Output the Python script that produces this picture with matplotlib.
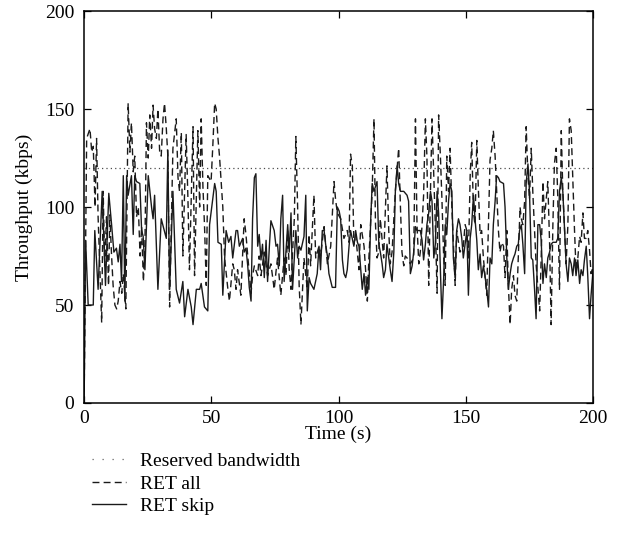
import matplotlib
matplotlib.use('Agg')
import matplotlib.pyplot as plt
from matplotlib.lines import Line2D

plt.rcParams['font.family'] = ['Liberation Serif', 'DejaVu Serif']
plt.rcParams['font.size'] = 14

# 数据
reserved_bw = 120

t_skip = [0, 0.6, 1.6, 3.6, 4.2, 5.5, 7.1, 8.4, 9.7, 10.8, 11.7, 12.7, 13.4, 14.1, 14.7, 15.4, 16.0, 16.7, 17.3, 18.6,
          19.3, 19.9, 20.6, 21.9, 22.6, 23.2, 23.9, 25.2, 26.5, 27.1,
          27.7, 29.0, 30.3, 32.3, 32.9, 33.6, 34.9, 36.2, 37.5, 38.8, 39.5, 40.8, 42.1, 42.8, 44.1, 45.4, 46.0, 47.3,
          48.6, 49.3, 51.3, 51.9, 52.6, 53.9, 54.5, 55.8,
          56.8, 57.7, 58.4, 59.7, 60.3, 61.0, 62.3, 62.9, 63.6, 64.3, 64.9, 65.6, 66.2, 66.9, 67.5, 68.2, 68.8, 69.5,
          70.1, 70.8, 71.5, 72.1, 72.8, 73.4, 74.7, 75.4, 76.0, 76.7, 77.3, 78.0, 78.6, 79.3, 80.0, 80.6, 81.3, 81.9,
          82.6, 83.2, 83.9, 84.5, 85.2,
          86.4, 87.1, 87.7, 88.4, 89.0, 90.3, 91.6, 92.3, 92.9, 93.6, 94.3, 94.9, 95.6, 96.2, 97.5, 98.8, 99.5, 100.2,
          100.8, 101.5, 102.1, 102.8, 103.4, 104.1, 104.7, 106.0, 106.7, 107.4, 108.0, 109.3, 110.0, 110.6, 111.3,
          111.9, 112.6, 113.2, 113.9,
          115.1, 115.8, 116.4, 117.1, 117.7, 118.4, 119.0, 119.7, 120.3, 121.0, 121.7, 122.3, 123.0, 123.6, 124.3,
          125.6, 126.9, 127.5, 128.2, 128.9, 129.5, 130.2, 130.8, 132.1, 132.8, 133.4, 134.1, 134.7, 135.4, 136.1,
          136.7, 137.4, 138.0, 138.7, 139.3, 140.0, 140.6, 141.3, 141.9,
          142.5, 143.2, 143.8, 144.5, 145.1, 145.8, 146.4, 147.1, 147.7, 148.4, 149.0, 149.7, 150.4, 151.0, 151.7,
          152.3, 153.0, 153.6, 154.3, 154.9, 155.6, 156.2, 156.9, 157.6, 158.2, 158.9, 159.5, 160.2, 160.8, 161.5,
          162.1, 162.8, 163.4, 164.8, 165.4, 166.1, 166.7, 167.4, 168.0, 168.7, 169.3, 170.0, 170.6,
          171.1, 171.8, 172.4, 173.1, 173.7, 174.4, 175.0, 175.7, 176.3, 177.0, 177.6, 178.3, 179.0, 179.6, 180.3,
          180.9, 181.6, 182.2, 182.9, 183.5, 184.2, 185.5, 186.1, 186.8, 187.5, 188.1, 188.8, 189.4, 190.1, 190.7,
          191.4, 192.0, 192.7, 193.3, 194.0, 194.7, 195.3, 196.0, 196.6, 197.3, 197.9, 198.6, 199.2, 200.0]
v_skip = [0, 83, 50, 50, 88, 58, 108, 60, 107, 91, 77, 79, 72, 81, 62, 116, 52, 116, 106, 116,
          86, 116, 113, 112, 88, 85, 68, 116, 100, 94,
          106, 58, 94, 84, 129, 58, 108, 58, 51, 62, 44, 58, 49, 40, 58, 58, 61, 49,
          47, 91, 112, 108, 82, 81, 55, 88,
          82, 85, 74, 88, 88, 80, 84, 77, 79, 70, 59, 52, 94, 115, 117, 80, 86, 73,
          81, 64, 83, 62, 80, 93, 88, 80, 81, 70, 94, 106, 62, 77, 91, 77, 97, 58,
          74, 88, 74, 80, 78,
          85, 106, 47, 64, 61, 58, 66, 80, 68, 88, 88, 81, 75, 66, 59, 59, 100, 98,
          94, 73, 66, 64, 68, 80, 88, 80, 88, 82, 80, 58, 66, 55, 64,
          58, 93, 112, 108,
          113, 81, 77, 71, 64, 68, 81, 74, 68, 62, 77, 108, 121, 112, 108,
          108, 106, 103, 66, 70, 77, 90, 88, 88, 83, 73, 81, 91, 97, 108,
          103, 74, 81, 108, 97, 68, 43, 64, 91,
          86, 103, 112, 108, 74, 64, 88, 94, 91, 84, 74, 81, 88, 55, 84,
          91, 106, 94, 83, 68, 76, 64, 70, 64, 58, 49, 74, 71, 91, 103,
          116, 115, 113, 112, 100, 74, 58, 66, 71, 74, 76, 80, 81,
          88, 91, 81, 66, 112, 122, 108, 74, 73, 58, 43, 91, 91, 83, 61,
          71, 64, 74, 77, 81, 82, 82, 84, 108, 115, 108, 88, 71, 62, 74,
          71, 65, 74, 65, 73, 61, 68, 65, 73, 80, 65, 43, 55, 68]

t_all = [0, 1.0, 2.3, 3.0, 3.6, 4.3, 4.9, 5.5, 6.9, 7.5, 8.1, 8.8, 9.6, 10.1, 10.8, 11.4, 12.1, 12.8, 13.4, 14.1,
         14.8, 15.4, 16.4, 17.3, 18.0, 18.6, 19.3, 19.9, 20.6, 21.3, 22.0, 22.6, 23.3, 23.9, 24.5, 25.2, 25.8, 26.5,
         27.1,
         27.7, 28.4, 29.0, 29.7, 30.3, 31.0, 31.6, 32.3, 32.9, 33.6, 34.9, 36.2, 36.9, 37.5, 38.2, 38.8, 40.1, 40.8,
         41.4, 42.8, 43.4, 44.7, 45.4, 46.0, 46.7, 47.3, 48.0, 48.6, 49.9, 50.6, 51.3, 51.9, 52.6, 53.2, 54.5, 55.2,
         56.5,
         57.1, 58.4, 59.0, 59.7, 60.3, 61.6, 62.9, 63.6, 64.3, 65.6, 66.2, 66.9, 68.2, 68.8, 69.5, 70.8, 72.1, 73.4,
         74.7, 75.4, 76.0, 77.3, 78.6, 79.3, 80.0, 80.6, 81.3, 81.9, 82.6, 83.2, 83.9, 84.5, 85.2,
         86.4, 87.7, 88.4, 89.0, 90.3, 91.0, 92.3, 92.9, 94.3, 95.6, 96.9, 98.2, 98.8, 99.5, 100.8, 102.1, 103.4,
         104.1, 104.7, 105.4, 106.0, 106.7, 108.0, 108.7, 110.0, 110.6, 111.3, 111.9, 113.2, 113.9,
         114.5, 115.1, 115.8, 116.4, 117.7, 119.0, 119.7, 120.3, 121.0, 122.3, 123.6, 124.3, 124.9, 125.6, 126.2,
         126.9, 128.2, 129.5, 130.2, 130.8, 131.5, 132.1, 132.8, 133.4, 134.1, 134.7, 135.4, 136.1, 136.7, 137.4,
         138.0, 138.7, 139.3, 140.0, 140.6, 141.3, 141.9,
         142.5, 143.2, 143.8, 144.5, 145.1, 145.8, 146.4, 147.7, 149.0, 149.7, 150.4, 151.0, 151.7, 152.3, 153.0,
         153.6, 154.3, 154.9, 155.6, 156.2, 156.9, 157.6, 158.2, 158.9, 159.5, 160.2, 160.8, 161.5, 162.1, 162.8,
         163.4, 164.1, 164.8, 165.4, 166.1, 166.7, 167.4, 168.0, 168.7, 169.3, 170.0, 170.6,
         171.3, 171.8, 172.4, 173.1, 173.7, 174.4, 175.0, 175.7, 176.3, 177.0, 177.6, 179.0, 179.6, 180.3, 180.9,
         182.2, 182.9, 183.5, 184.2, 184.8, 185.5, 186.1, 186.8, 187.5, 188.1, 188.8, 189.4, 190.1, 190.7, 191.4,
         192.0, 192.7, 193.3, 194.0, 194.7, 195.3, 196.0, 196.6, 197.3, 197.9, 198.6, 199.2, 200.0]
v_all = [0, 135, 140, 128, 131, 100, 135, 95, 41, 108, 70, 95, 60, 96, 75, 60, 50, 48, 52, 62,
         56, 66, 48, 153, 128, 143, 118, 126, 95, 100, 75, 90, 62, 80, 143, 125, 147, 130,
         152,
         140, 135, 150, 128, 126, 145, 153, 140, 126, 49, 130, 145, 115, 108, 138, 75, 137, 104,
         68, 141, 65, 139, 100, 145, 110, 91, 60, 116, 113, 132, 153, 150, 135, 126, 100, 74,
         58,
         52, 71, 68, 58, 68, 55, 94, 86, 75, 56, 65, 70, 65, 75, 65, 77, 65, 71,
         58, 67, 74, 55, 74, 65, 88, 68, 58, 77, 94, 136, 100, 60, 40,
         74, 58, 86, 70, 106, 74, 80, 75, 90, 71, 80, 113, 104, 97, 94, 84, 88,
         82, 127, 121, 81, 86, 68, 91, 80, 68, 52, 74, 108, 145,
         91, 74, 77, 94, 74, 121, 88, 71, 77, 108, 130, 100, 77, 70, 75,
         74, 71, 74, 145, 91, 71, 77, 91, 106, 145, 126, 60, 108, 145, 116,
         91, 56, 147, 126, 104, 74, 60,
         126, 108, 130, 100, 82, 60, 88, 77, 80, 91, 88, 74, 116, 133, 97,
         91, 134, 110, 86, 88, 74, 64, 55, 91, 124, 130, 139, 126, 108, 88,
         77, 82, 80, 64, 88, 60, 40, 58, 65, 55, 52, 74,
         100, 94, 91, 103, 141, 116, 104, 130, 108, 88, 71, 47, 74, 113, 94,
         113, 82, 40, 91, 122, 130, 106, 58, 139, 108, 88, 71, 91, 145, 139,
         116, 88, 68, 74, 85, 82, 97, 84, 84, 88, 78, 66, 70]

line_color = '#1a1a1a'

fig = plt.figure(figsize=(6.23, 5.54), dpi=100)
ax = fig.add_axes([0.135, 0.2726, 0.817, 0.7074])

ax.axhline(reserved_bw, color='0.3', lw=0.9, linestyle=(0, (1, 2.5)))
ax.plot(t_all, v_all, color=line_color, lw=1.0, linestyle=(0, (5, 3)))
ax.plot(t_skip, v_skip, color=line_color, lw=1.0)

ax.set_xlim(0, 200)
ax.set_ylim(0, 200)
ax.set_xticks([0, 50, 100, 150, 200])
ax.set_yticks([0, 50, 100, 150, 200])
ax.tick_params(direction='in', length=5, width=0.9, top=True, right=True, labelsize=14)
ax.tick_params(axis='y', pad=7)
ax.tick_params(axis='x', pad=5)
for s in ax.spines.values():
    s.set_linewidth(1.1)

ax.set_xlabel('Time (s)', fontsize=14, labelpad=-1)
ax.set_ylabel('Throughput (kbps)', fontsize=14, labelpad=9)

# 图例（图下方）
handles = [
    Line2D([], [], color='0.4', lw=0.9, linestyle=(0, (1, 7))),
    Line2D([], [], color=line_color, lw=1.0, linestyle=(0, (5, 3))),
    Line2D([], [], color=line_color, lw=1.0),
]
labels = ['Reserved bandwidth', 'RET all', 'RET skip']
fig.legend(handles, labels, loc='upper left', bbox_to_anchor=(0.148, 0.183),
           frameon=False, fontsize=14, handlelength=1.75, handletextpad=0.72,
           labelspacing=0.24, borderpad=0, borderaxespad=0)

fig.savefig('out.png', dpi=100)
